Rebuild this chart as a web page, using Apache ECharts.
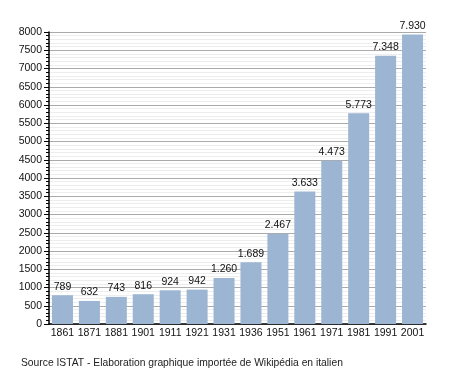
<!DOCTYPE html>
<html>
<head>
<meta charset="utf-8">
<script src="https://cdn.jsdelivr.net/npm/echarts@6/dist/echarts.min.js"></script>
<style>html,body{margin:0;padding:0;background:#fff}#c{width:455px;height:373px}</style>
</head>
<body>
<div id="c"></div>
<script>
var categories = ['1861','1871','1881','1901','1911','1921','1931','1936','1951','1961','1971','1981','1991','2001'];
var population = [789, 632, 743, 816, 924, 942, 1260, 1689, 2467, 3633, 4473, 5773, 7348, 7930];
var sourceText = 'Source ISTAT - Elaboration graphique importée de Wikipédia en italien';

function fmt(v){
  var s = String(v);
  return s.length > 3 ? s.slice(0, s.length-3) + '.' + s.slice(s.length-3) : s;
}
var chart = echarts.init(document.getElementById('c'));
var font = 'Liberation Sans, Arial, sans-serif';
chart.setOption({
  animation: false,
  textStyle: {fontFamily: font},
  grid: {left: 49, right: 29, top: 32, bottom: 49, containLabel: false},
  graphic: [{type: 'text', left: 21, top: 358, style: {text: sourceText, fontSize: 10.3, fontFamily: font, fill: '#222'}}],
  xAxis: {
    type: 'category', data: categories,
    axisLine: {lineStyle: {color: '#000', width: 1.5}},
    axisTick: {show: false},
    axisLabel: {color: '#111', fontSize: 10.5, fontFamily: font, margin: 4, interval: 0}
  },
  yAxis: {
    type: 'value', min: 0, max: 8000, interval: 500,
    axisLine: {show: true, lineStyle: {color: '#000', width: 1.5}},
    axisTick: {show: true, length: 5, lineStyle: {color: '#000'}},
    minorTick: {show: true, splitNumber: 5, length: 3, lineStyle: {color: '#000'}},
    splitLine: {lineStyle: {color: '#aaaaaa', width: 1}},
    minorSplitLine: {show: true, lineStyle: {color: '#ededed', width: 1}},
    axisLabel: {color: '#111', fontSize: 10.5, fontFamily: font, margin: 7,
      formatter: function(v){ return String(v); }}
  },
  series: [{
    type: 'bar', data: population, barCategoryGap: '22%',
    itemStyle: {color: '#9bb5d2'},
    label: {show: true, position: 'top', distance: 3, color: '#111', fontSize: 10.5, fontFamily: font,
      formatter: function(p){ return fmt(p.value); }}
  }]
});
</script>
</body>
</html>
